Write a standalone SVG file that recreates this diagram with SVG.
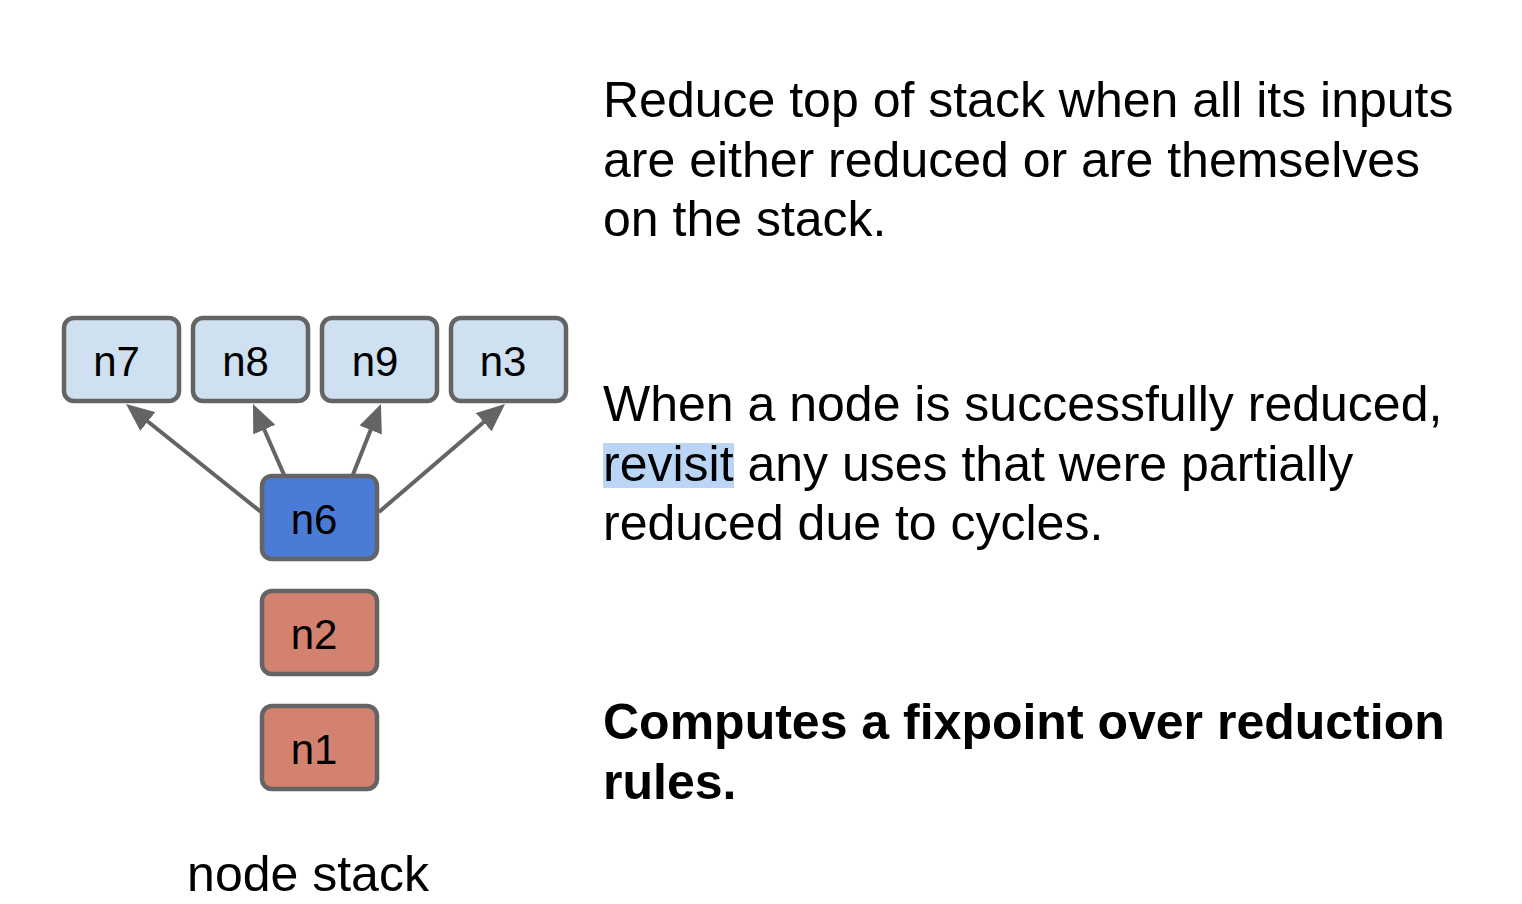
<svg xmlns="http://www.w3.org/2000/svg" width="1522" height="904" viewBox="0 0 1522 904">
<style>
.box{stroke:#646464;stroke-width:4.5}
.light{fill:#cfe0f1}
.blue{fill:#4a7bd6}
.red{fill:#d38270}
.lbl{font-family:"Liberation Sans",Arial,sans-serif;font-size:42px;fill:#000;text-anchor:middle}
.txt{font-family:"Liberation Sans",Arial,sans-serif;font-size:50px;fill:#000}
.bold{font-weight:bold}
.conn{stroke:#646464;stroke-width:4;fill:none;marker-end:url(#ah)}
</style>
<defs>
<marker id="ah" markerUnits="userSpaceOnUse" markerWidth="28" markerHeight="24" refX="14" refY="12" orient="auto">
<path d="M0,0 L28,12 L0,24 z" fill="#646464"/>
</marker>
</defs>
<rect width="1522" height="904" fill="#fff"/>
<g id="connectors">
<line class="conn" x1="261" y1="512" x2="136.9" y2="412.8"/>
<line class="conn" x1="285" y1="477" x2="258.6" y2="416.8"/>
<line class="conn" x1="352" y1="477" x2="375.8" y2="417"/>
<line class="conn" x1="379" y1="512" x2="494.4" y2="413.1"/>
</g>
<g id="n7"><rect class="box light" x="64" y="318" width="115" height="83" rx="10"/><text class="lbl" x="116.5" y="376">n7</text></g>
<g id="n8"><rect class="box light" x="193" y="318" width="115" height="83" rx="10"/><text class="lbl" x="245.5" y="376">n8</text></g>
<g id="n9"><rect class="box light" x="322" y="318" width="115" height="83" rx="10"/><text class="lbl" x="375" y="376">n9</text></g>
<g id="n3"><rect class="box light" x="451" y="318" width="115" height="83" rx="10"/><text class="lbl" x="503" y="376">n3</text></g>
<g id="n6"><rect class="box blue" x="262" y="476" width="115" height="83" rx="10"/><text class="lbl" x="314" y="534">n6</text></g>
<g id="n2"><rect class="box red" x="262" y="591" width="115" height="83" rx="10"/><text class="lbl" x="314" y="649">n2</text></g>
<g id="n1"><rect class="box red" x="262" y="706" width="115" height="83" rx="10"/><text class="lbl" x="314" y="764">n1</text></g>
<text class="txt" x="308" y="891" text-anchor="middle">node stack</text>
<g id="text">
<text class="txt" x="603" y="117">Reduce top of stack when all its inputs</text>
<text class="txt" x="603" y="177">are either reduced or are themselves</text>
<text class="txt" x="603" y="236">on the stack.</text>
<rect x="603" y="443" width="131" height="45" fill="#bad5f6"/>
<text class="txt" x="603" y="421">When a node is successfully reduced,</text>
<text class="txt" x="603" y="481">revisit any uses that were partially</text>
<text class="txt" x="603" y="540">reduced due to cycles.</text>
<text class="txt bold" x="603" y="739">Computes a fixpoint over reduction</text>
<text class="txt bold" x="603" y="799">rules.</text>
</g>
</svg>
